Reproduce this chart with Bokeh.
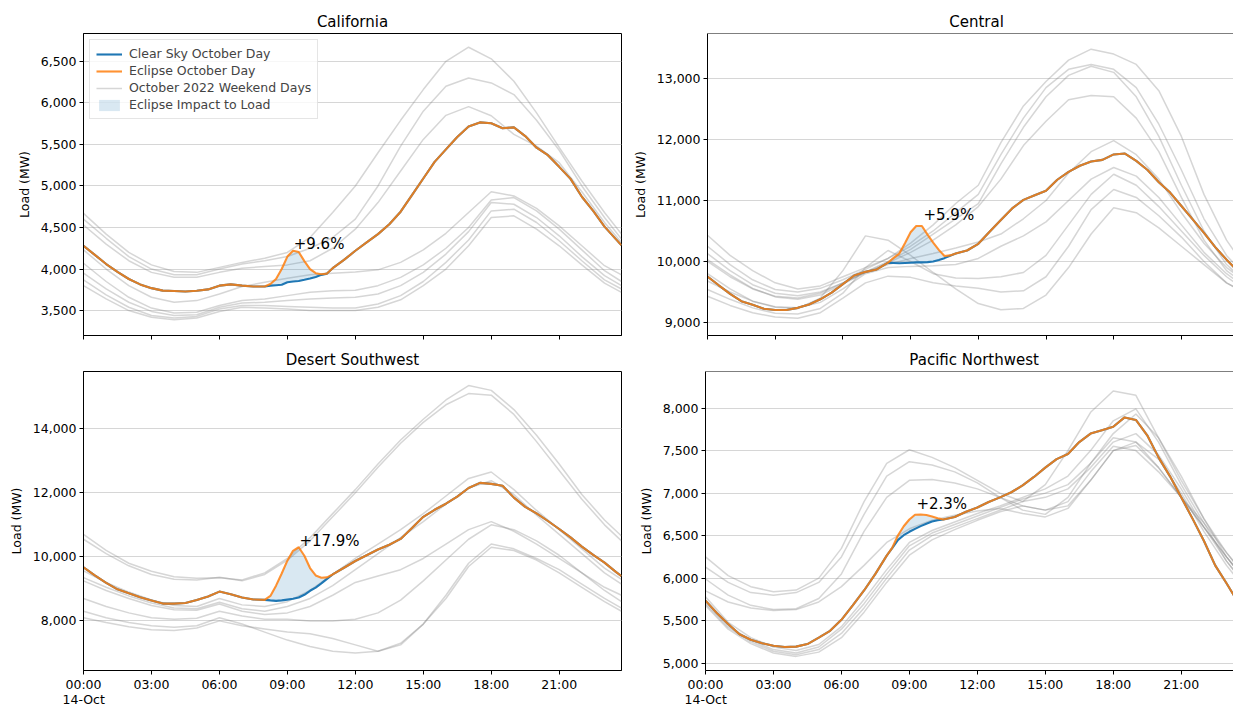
from bokeh.plotting import figure
from bokeh.models import (Range1d, FixedTicker, NumeralTickFormatter, Legend,
                          LegendItem, Label, Span, Title)
from bokeh.layouts import column, row
from bokeh.embed import file_html
from bokeh.resources import INLINE

# ---------------- data ----------------
REGIONS = ["California", "Central", "Desert Southwest", "Pacific Northwest"]

X_TICKS = [0, 3, 6, 9, 12, 15, 18, 21]
X_TICK_LABELS = ["00:00", "03:00", "06:00", "09:00", "12:00", "15:00", "18:00", "21:00"]
DATE_LABEL = "14-Oct"

# hours of the day for the weekend-day curves
T_GRAY = [0, 1, 2, 3, 4, 5, 6, 7, 8, 9, 10, 11, 12, 13, 14, 15, 16, 17, 18, 19,
          20, 21, 22, 23, 23.75]
# hours for the eclipse-day / clear-sky curves
T_MAIN = [0.0, 0.5, 1.0, 1.5, 2.0, 2.5, 3.0, 3.5, 4.0, 4.5, 5.0, 5.5, 6.0, 6.5, 7.0, 7.5,
          8.0, 8.25, 8.5, 8.75, 9.0, 9.25, 9.5, 9.75, 10.0, 10.25, 10.5, 10.75, 11.0,
          11.5, 12.0, 12.5, 13.0, 13.5, 14.0, 14.5, 15.0, 15.5, 16.0, 16.5, 17.0, 17.5,
          18.0, 18.5, 19.0, 19.5, 20.0, 20.5, 21.0, 21.5, 22.0, 22.5, 23.0, 23.5, 23.75]
# eclipse window hours (clear-sky values differ here)
T_WIN = [8.0, 8.25, 8.5, 8.75, 9.0, 9.25, 9.5, 9.75, 10.0, 10.25, 10.5, 10.75, 11.0]

CA_ECLIPSE = [4280, 4170, 4060, 3965, 3880, 3815, 3770, 3740, 3735, 3730, 3738, 3755, 3800, 3815, 3800, 3790,
              3790, 3820, 3880, 4000, 4150, 4220, 4205, 4095, 4000, 3950, 3937, 3945, 4010,
              4110, 4220, 4320, 4420, 4540, 4690, 4890, 5090, 5290, 5440, 5590, 5715, 5765, 5755, 5695,
              5705, 5600, 5460, 5370, 5230, 5085, 4870, 4700, 4510, 4360, 4285]
CA_CLEAR_WIN = [3790, 3800, 3805, 3810, 3840, 3850, 3856, 3870, 3885, 3905, 3930, 3945, 4010]
CA_GRAY = [
    [4670, 4420, 4200, 4050, 3970, 3960, 4020, 4080, 4130, 4200, 4380, 4680, 5000, 5400, 5790, 6160, 6500, 6670, 6530, 6260, 5880, 5465, 5060, 4680, 4420],
    [4600, 4370, 4150, 4000, 3930, 3930, 4000, 4060, 4100, 4150, 4250, 4380, 4600, 5000, 5480, 5900, 6200, 6300, 6240, 6100, 5790, 5430, 5000, 4620, 4360],
    [4530, 4300, 4100, 3960, 3900, 3900, 3960, 4010, 4030, 4050, 4100, 4250, 4480, 4800, 5180, 5560, 5850, 5955, 5845, 5620, 5480, 5280, 4930, 4560, 4320],
    [4230, 4000, 3800, 3660, 3600, 3620, 3700, 3790, 3840, 3890, 3930, 3950, 3965, 3990, 4080, 4230, 4430, 4680, 4930, 4880, 4730, 4520, 4280, 4040, 3930],
    [4070, 3850, 3660, 3530, 3470, 3480, 3560, 3620, 3640, 3680, 3720, 3740, 3745, 3800, 3900, 4050, 4250, 4500, 4830, 4860, 4700, 4480, 4230, 3980, 3850],
    [3950, 3760, 3600, 3490, 3440, 3450, 3540, 3590, 3600, 3620, 3640, 3650, 3660, 3700, 3800, 3960, 4180, 4450, 4800, 4780, 4620, 4400, 4150, 3920, 3800],
    [3870, 3690, 3540, 3440, 3410, 3430, 3520, 3560, 3560, 3550, 3540, 3530, 3530, 3580, 3680, 3850, 4080, 4350, 4700, 4720, 4560, 4340, 4100, 3870, 3760],
    [3800, 3640, 3500, 3420, 3390, 3410, 3490, 3540, 3530, 3520, 3500, 3500, 3500, 3540, 3630, 3800, 4000, 4280, 4620, 4640, 4480, 4280, 4050, 3830, 3720],
]

CE_ECLIPSE = [9753, 9610, 9470, 9350, 9290, 9225, 9205, 9205, 9240, 9295, 9380, 9490, 9630, 9770, 9830, 9870,
              9980, 10060, 10130, 10300, 10480, 10582, 10582, 10440, 10310, 10190, 10090, 10100, 10130,
              10180, 10290, 10489, 10680, 10870, 11010, 11085, 11160, 11340, 11470, 11570, 11640, 11665,
              11755, 11770, 11650, 11500, 11300, 11130, 10910, 10690, 10470, 10235, 10030, 9840, 9750]
CE_CLEAR_WIN = [9980, 9975, 9970, 9975, 9980, 9985, 9985, 9990, 10000, 10025, 10055, 10095, 10130]
CE_GRAY = [
    [10430, 10100, 9850, 9650, 9550, 9600, 9750, 9900, 10050, 10300, 10600, 10950, 11250, 11950, 12550, 12950, 13300, 13480, 13400, 13230, 12800, 12050, 11100, 10350, 9950],
    [10250, 9950, 9700, 9540, 9500, 9560, 9700, 9870, 10050, 10250, 10500, 10800, 11100, 11750, 12350, 12850, 13150, 13230, 13150, 12850, 12250, 11500, 10700, 10100, 9800],
    [10130, 9850, 9620, 9480, 9440, 9500, 9650, 9830, 10000, 10200, 10450, 10700, 10950, 11600, 12200, 12700, 13050, 13200, 13100, 12700, 12050, 11250, 10500, 9950, 9700],
    [10030, 9780, 9560, 9420, 9380, 9450, 9630, 9820, 9980, 10150, 10350, 10600, 10900, 11350, 11900, 12300, 12650, 12720, 12700, 12350, 11800, 11050, 10350, 9850, 9650],
    [10000, 9750, 9550, 9430, 9400, 9480, 9650, 9820, 9950, 10050, 10130, 10220, 10320, 10450, 10700, 11000, 11450, 11800, 11980, 11750, 11350, 10800, 10300, 9900, 9700],
    [9680, 9500, 9350, 9260, 9240, 9330, 9550, 9800, 9900, 9920, 9930, 9950, 10050, 10250, 10420, 10650, 11000, 11350, 11540, 11400, 11050, 10600, 10150, 9800, 9600],
    [9540, 9380, 9240, 9150, 9140, 9230, 9480, 9900, 10180, 10000, 9800, 9730, 9720, 9750, 9820, 10100, 10600, 11100, 11430, 11250, 10900, 10500, 10100, 9750, 9550],
    [9430, 9280, 9160, 9090, 9070, 9160, 9400, 9650, 9760, 9740, 9650, 9600, 9560, 9500, 9520, 9750, 10250, 10850, 11180, 11050, 10750, 10400, 10000, 9650, 9500],
    [9800, 9550, 9350, 9250, 9230, 9400, 9850, 10420, 10350, 10100, 9820, 9550, 9310, 9210, 9230, 9450, 9900, 10450, 10880, 10800, 10550, 10250, 9950, 9650, 9500],
]

DSW_ECLIPSE = [9670, 9420, 9190, 8985, 8860, 8740, 8640, 8540, 8540, 8560, 8650, 8760, 8915, 8830, 8730, 8670,
               8657, 8780, 9100, 9480, 9880, 10190, 10300, 10034, 9650, 9420, 9345, 9360, 9450,
               9660, 9870, 10050, 10230, 10380, 10560, 10900, 11250, 11470, 11660, 11880, 12150, 12310,
               12280, 12220, 11850, 11560, 11360, 11120, 10870, 10610, 10320, 10060, 9820, 9530, 9400]
DSW_CLEAR_WIN = [8657, 8640, 8626, 8640, 8665, 8690, 8730, 8814, 8940, 9040, 9170, 9310, 9450]
DSW_GRAY = [
    [10700, 10200, 9800, 9550, 9380, 9330, 9350, 9280, 9500, 9950, 10600, 11350, 12100, 12900, 13650, 14300, 14900, 15350, 15200, 14600, 13800, 12900, 11950, 11150, 10650],
    [10550, 10100, 9720, 9450, 9300, 9280, 9360, 9250, 9450, 9900, 10500, 11250, 12000, 12800, 13550, 14200, 14750, 15100, 15050, 14450, 13600, 12700, 11800, 11000, 10500],
    [9560, 9200, 8900, 8650, 8480, 8450, 8700, 8500, 8450, 8600, 8950, 9450, 9950, 10400, 10850, 11350, 11900, 12450, 12650, 12100, 11450, 10850, 10250, 9650, 9300],
    [9350, 9050, 8780, 8560, 8400, 8380, 8580, 8380, 8300, 8450, 8700, 9100, 9600, 10100, 10600, 11100, 11650, 12150, 12380, 11950, 11300, 10700, 10100, 9500, 9150],
    [9250, 8950, 8700, 8480, 8350, 8330, 8530, 8300, 8200, 8250, 8450, 8800, 9200, 9400, 9600, 9950, 10400, 10850, 11100, 10800, 10400, 9950, 9500, 9050, 8800],
    [8700, 8450, 8250, 8100, 8050, 8080, 8300, 8150, 8050, 8050, 8000, 8000, 8050, 8250, 8650, 9250, 9900, 10550, 11000, 10850, 10500, 10050, 9500, 8950, 8600],
    [8300, 8100, 7950, 7850, 7800, 7850, 8100, 7900, 7650, 7400, 7200, 7050, 7000, 7050, 7300, 7900, 8800, 9800, 10400, 10250, 9950, 9600, 9150, 8700, 8400],
    [8100, 7950, 7820, 7720, 7700, 7780, 8000, 7850, 7750, 7650, 7600, 7450, 7250, 7050, 7250, 7900, 8700, 9700, 10300, 10200, 9900, 9500, 9050, 8600, 8300],
]

PNW_ECLIPSE = [5736, 5590, 5460, 5340, 5275, 5235, 5205, 5190, 5195, 5225, 5300, 5380, 5510, 5680, 5855, 6050,
               6265, 6360, 6505, 6610, 6690, 6745, 6748, 6742, 6725, 6705, 6690, 6705, 6720,
               6780, 6830, 6895, 6950, 7010, 7090, 7190, 7300, 7400, 7460, 7600, 7700, 7740, 7780, 7890,
               7860, 7680, 7420, 7200, 6950, 6700, 6440, 6150, 5940, 5720, 5600]
PNW_CLEAR_WIN = [6265, 6355, 6450, 6505, 6545, 6580, 6612, 6640, 6665, 6680, 6690, 6705, 6720]
PNW_GRAY = [
    [6250, 6030, 5900, 5840, 5860, 6000, 6350, 6900, 7350, 7510, 7420, 7300, 7150, 7000, 6900, 7100, 7500, 7950, 8200, 8150, 7650, 7150, 6700, 6300, 6050],
    [6130, 5950, 5830, 5800, 5830, 5950, 6250, 6750, 7200, 7370, 7330, 7250, 7120, 6950, 6800, 6750, 6950, 7350, 7650, 7600, 7300, 6950, 6600, 6250, 6000],
    [5990, 5800, 5680, 5630, 5640, 5760, 6050, 6550, 6950, 7150, 7160, 7120, 7050, 6950, 6850, 6800, 6900, 7250, 7550, 7500, 7250, 6950, 6650, 6300, 6050],
    [5850, 5720, 5650, 5620, 5630, 5720, 5900, 6150, 6420, 6580, 6680, 6740, 6790, 6820, 6760, 6720, 6820, 7150, 7500, 7560, 7300, 6950, 6600, 6250, 6000],
    [5780, 5480, 5300, 5190, 5150, 5220, 5430, 5750, 6100, 6420, 6560, 6660, 6760, 6850, 6950, 7050, 7200, 7500, 7850, 7990, 7600, 7100, 6650, 6200, 5950],
    [5720, 5440, 5270, 5160, 5120, 5190, 5400, 5700, 6050, 6380, 6530, 6630, 6730, 6830, 6930, 7000, 7100, 7350, 7700, 7930, 7650, 7200, 6700, 6250, 6000],
    [5700, 5420, 5250, 5140, 5100, 5160, 5350, 5650, 6000, 6330, 6500, 6600, 6700, 6800, 6900, 6950, 7050, 7300, 7600, 7700, 7450, 7050, 6600, 6200, 5950],
    [5680, 5400, 5230, 5120, 5080, 5130, 5300, 5600, 5950, 6270, 6450, 6570, 6680, 6780, 6850, 6800, 6850, 7150, 7500, 7600, 7400, 7000, 6550, 6150, 5900],
]

Y_RANGES = [(3200, 6835), (8787, 13737), (6450, 15790), (4914, 8430)]
Y_TICKS = [[3500, 4000, 4500, 5000, 5500, 6000, 6500],
           [9000, 10000, 11000, 12000, 13000],
           [8000, 10000, 12000, 14000],
           [5000, 5500, 6000, 6500, 7000, 7500, 8000]]

IMPACT_TEXT = ["+9.6%", "+5.9%", "+17.9%", "+2.3%"]
IMPACT_X = [9.28, 9.57, 9.53, 9.31]          # hour where the label starts
IMPACT_Y = [4305, 10754, 10503, 6868]        # MW of the label baseline

LEGEND_LABELS = ["Clear Sky October Day", "Eclipse October Day",
                 "October 2022 Weekend Days", "Eclipse Impact to Load"]

FULL_DAY_END = 23.75

# ---------------- styling ----------------
FONT = "DejaVu Sans"
BLUE = "#1f77b4"
ORANGE = "#ff7f0e"
TITLE_PX = 15
TICK_PX = 12.5
LEFT_FRAME_W = 538

# DejaVu Sans advance widths (per 1000 em), used to place left-aligned titles
_ADV = {"C": 698, "e": 615, "n": 634, "t": 392, "r": 411, "a": 613, "l": 278, "P": 603,
        "c": 550, "i": 278, "f": 352, " ": 318, "N": 748, "o": 612, "h": 634, "w": 818,
        "s": 521, "1": 636, "4": 636, "-": 361, "O": 787}


def text_w(s, px):
    return sum(_ADV.get(ch, 600) for ch in s) / 1000.0 * px


def make_panel(i, gray, eclipse, clear_win):
    col = i % 2
    top = i < 2
    left = col == 0
    width = 629 if left else 604
    height = 342 if top else 363
    mb_left = 83 if left else 76
    mb_right = 8 if left else 0
    mb_top = 33 if top else 29
    mb_bottom = 7 if top else 34
    frame_w = width - mb_left - mb_right
    px_per_h = LEFT_FRAME_W / FULL_DAY_END
    x_end = FULL_DAY_END if left else frame_w / px_per_h
    y_lo, y_hi = Y_RANGES[i]

    p = figure(width=width, height=height,
               x_range=Range1d(0, x_end), y_range=Range1d(y_lo, y_hi),
               output_backend="svg", toolbar_location=None,
               min_border_left=mb_left, min_border_right=mb_right,
               min_border_top=mb_top, min_border_bottom=mb_bottom,
               background_fill_color="white", border_fill_color="white")

    # title (right panels are cut by the page edge: centre on the full-day axis)
    p.title.text = REGIONS[i]
    p.title.text_font = FONT
    p.title.text_font_size = f"{TITLE_PX}px"
    p.title.text_font_style = "normal"
    p.title.text_color = "black"
    p.title.standoff = 5
    if left:
        p.title.align = "center"
    else:
        p.title.align = "left"
        p.title.offset = FULL_DAY_END / 2.0 * px_per_h - text_w(REGIONS[i], TITLE_PX) / 2.0

    # glyphs
    r_gray = p.multi_line(xs=[T_GRAY] * len(gray), ys=gray, line_color="#808080",
                          line_alpha=0.32, line_width=1.5)
    i0 = T_MAIN.index(T_WIN[0])
    n = len(T_WIN)
    eclipse_win = eclipse[i0:i0 + n]
    r_fill = p.varea(x=T_WIN, y1=clear_win, y2=eclipse_win, fill_color=BLUE, fill_alpha=0.17)
    clear_full = eclipse[:i0] + clear_win + eclipse[i0 + n:]
    r_blue = p.line(T_MAIN, clear_full, line_color=BLUE, line_width=2.1)
    r_orange = p.line(T_MAIN, eclipse, line_color=ORANGE, line_width=2.1, line_alpha=0.85)

    # impact annotation
    p.add_layout(Label(x=IMPACT_X[i], y=IMPACT_Y[i], text=IMPACT_TEXT[i],
                       text_font=FONT, text_font_size="15px", text_color="black",
                       text_align="left", text_baseline="alphabetic"))

    # axes
    p.xaxis.ticker = FixedTicker(ticks=X_TICKS)
    if top:
        p.xaxis.major_label_overrides = {t: "" for t in X_TICKS}
    else:
        p.xaxis.major_label_overrides = {t: lab for t, lab in zip(X_TICKS, X_TICK_LABELS)}
    p.yaxis.ticker = FixedTicker(ticks=Y_TICKS[i])
    p.yaxis.formatter = NumeralTickFormatter(format="0,0")
    for ax in (p.xaxis, p.yaxis):
        ax.major_tick_out = 4
        ax.major_tick_in = 0
        ax.minor_tick_line_color = None
        ax.axis_line_color = "black"
        ax.axis_line_width = 1
        ax.major_tick_line_color = "black"
        ax.major_label_text_font = FONT
        ax.major_label_text_font_size = f"{TICK_PX}px"
        ax.major_label_text_color = "black"
        ax.major_label_standoff = 3
    p.xaxis.major_label_standoff = 2
    p.yaxis.axis_label = "Load (MW)"
    p.yaxis.axis_label_text_font = FONT
    p.yaxis.axis_label_text_font_size = f"{TICK_PX}px"
    p.yaxis.axis_label_text_font_style = "normal"
    p.yaxis.axis_label_text_color = "black"
    p.yaxis.axis_label_standoff = 6

    if not top:
        # second line of the first tick label, centred under the 00:00 tick
        p.add_layout(Title(text=DATE_LABEL, align="left", vertical_align="top",
                           offset=-text_w(DATE_LABEL, TICK_PX) / 2.0, standoff=-6,
                           text_font=FONT, text_font_size=f"{TICK_PX}px",
                           text_font_style="normal", text_color="black"), "below")

    p.xgrid.visible = False
    p.ygrid.grid_line_color = "#d6d6d6"
    p.ygrid.grid_line_width = 1

    if left:
        p.outline_line_color = "black"
        p.outline_line_width = 1
        p.outline_line_alpha = 1
    else:
        p.outline_line_color = None
        p.add_layout(Span(location=y_hi, dimension="width", line_color="black", line_width=1))

    if i == 0:
        legend = Legend(items=[
            LegendItem(label=LEGEND_LABELS[0], renderers=[r_blue]),
            LegendItem(label=LEGEND_LABELS[1], renderers=[r_orange]),
            LegendItem(label=LEGEND_LABELS[2], renderers=[r_gray]),
            LegendItem(label=LEGEND_LABELS[3], renderers=[r_fill]),
        ], location="top_left", margin=6, padding=6, spacing=2,
            glyph_width=26, glyph_height=14, label_height=14, label_standoff=7,
            label_text_font=FONT, label_text_font_size=f"{TICK_PX}px",
            border_line_color="#cccccc", border_line_width=1,
            background_fill_color="white", background_fill_alpha=0.8)
        p.add_layout(legend)
    return p


panels = []
data = [(CA_GRAY, CA_ECLIPSE, CA_CLEAR_WIN), (CE_GRAY, CE_ECLIPSE, CE_CLEAR_WIN),
        (DSW_GRAY, DSW_ECLIPSE, DSW_CLEAR_WIN), (PNW_GRAY, PNW_ECLIPSE, PNW_CLEAR_WIN)]
for i, (g, e, c) in enumerate(data):
    panels.append(make_panel(i, g, e, c))

layout = column(row(panels[0], panels[1]), row(panels[2], panels[3]))

open("out.html", "w").write(file_html(layout, INLINE))
